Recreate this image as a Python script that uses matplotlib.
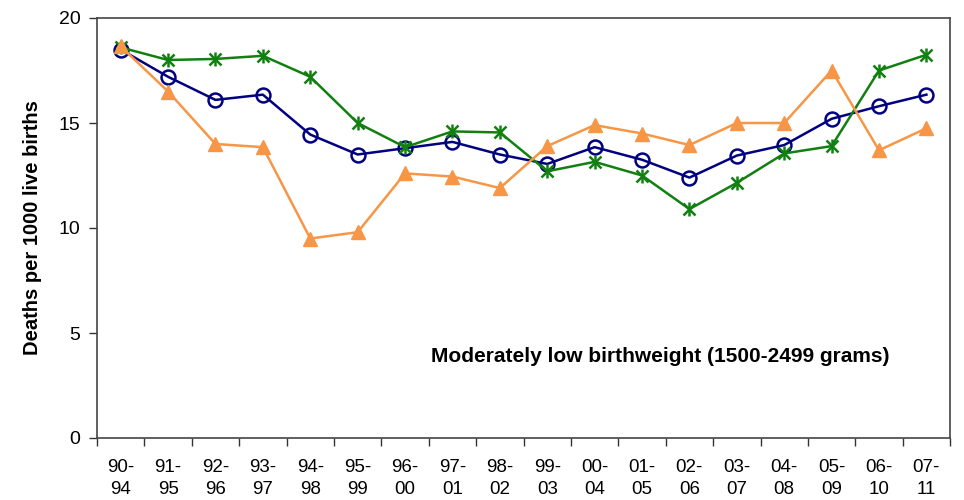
import numpy as np
import matplotlib.pyplot as plt

plt.rcParams['font.family'] = ['Liberation Sans', 'DejaVu Sans']

periods = ['90-\n94', '91-\n95', '92-\n96', '93-\n97', '94-\n98', '95-\n99', '96-\n00', '97-\n01', '98-\n02',
           '99-\n03', '00-\n04', '01-\n05', '02-\n06', '03-\n07', '04-\n08', '05-\n09', '06-\n10', '07-\n11']
navy = [18.5, 17.2, 16.1, 16.35, 14.45, 13.5, 13.8, 14.1, 13.5, 13.05, 13.85, 13.25, 12.4, 13.45, 13.95, 15.2, 15.8, 16.35]
green = [18.6, 18.0, 18.05, 18.2, 17.2, 15.0, 13.85, 14.6, 14.55, 12.7, 13.15, 12.5, 10.9, 12.15, 13.55, 13.9, 17.5, 18.25]
orange = [18.65, 16.5, 14.0, 13.85, 9.5, 9.8, 12.6, 12.45, 11.9, 13.9, 14.9, 14.5, 13.95, 15.0, 15.0, 17.5, 13.7, 14.75]

x = np.arange(len(periods))

fig = plt.figure(figsize=(9.64, 5.0), dpi=100)
ax = fig.add_axes([0.1006, 0.124, 0.885, 0.84])

ax.plot(x, navy, color='#000080', lw=1.8, marker='o', ms=10, mfc='none', mew=1.8, zorder=3)
ax.plot(x, green, color='#118011', lw=1.8, marker='x', ms=8.5, mew=1.8, zorder=3)
ax.plot(x, green, color='#118011', lw=0, marker='|', ms=10.5, mew=1.8, zorder=3)
ax.plot(x, orange, color='#f79646', lw=1.8, marker='^', ms=10, mec='#f79646', zorder=3)

ax.set_xlim(-0.5, len(periods) - 0.5)
ax.set_ylim(0, 20)
ax.set_yticks([0, 5, 10, 15, 20])
ax.set_xticks(x)
ax.set_xticklabels(periods, fontsize=13.5, linespacing=1.4,
                   family=['Liberation Sans Narrow', 'Liberation Sans'])
ax.set_xticks(np.arange(-0.5, len(periods)), minor=True)
ax.tick_params(axis='x', which='major', length=0, pad=15)
ax.tick_params(axis='x', which='minor', length=6, width=1, color='#333333', direction='out')
ax.tick_params(axis='y', length=6, width=1, color='#333333', labelsize=14, direction='out', pad=6)

for s in ax.spines.values():
    s.set_color('#444444')
    s.set_linewidth(1.2)

ax.set_ylabel('Deaths per 1000 live births', fontsize=14.5, fontweight='bold', labelpad=12)
ax.text(6.55, 3.9, 'Moderately low birthweight (1500-2499 grams)', fontsize=15, fontweight='bold', va='center', ha='left')

fig.savefig('out.png', dpi=100)
